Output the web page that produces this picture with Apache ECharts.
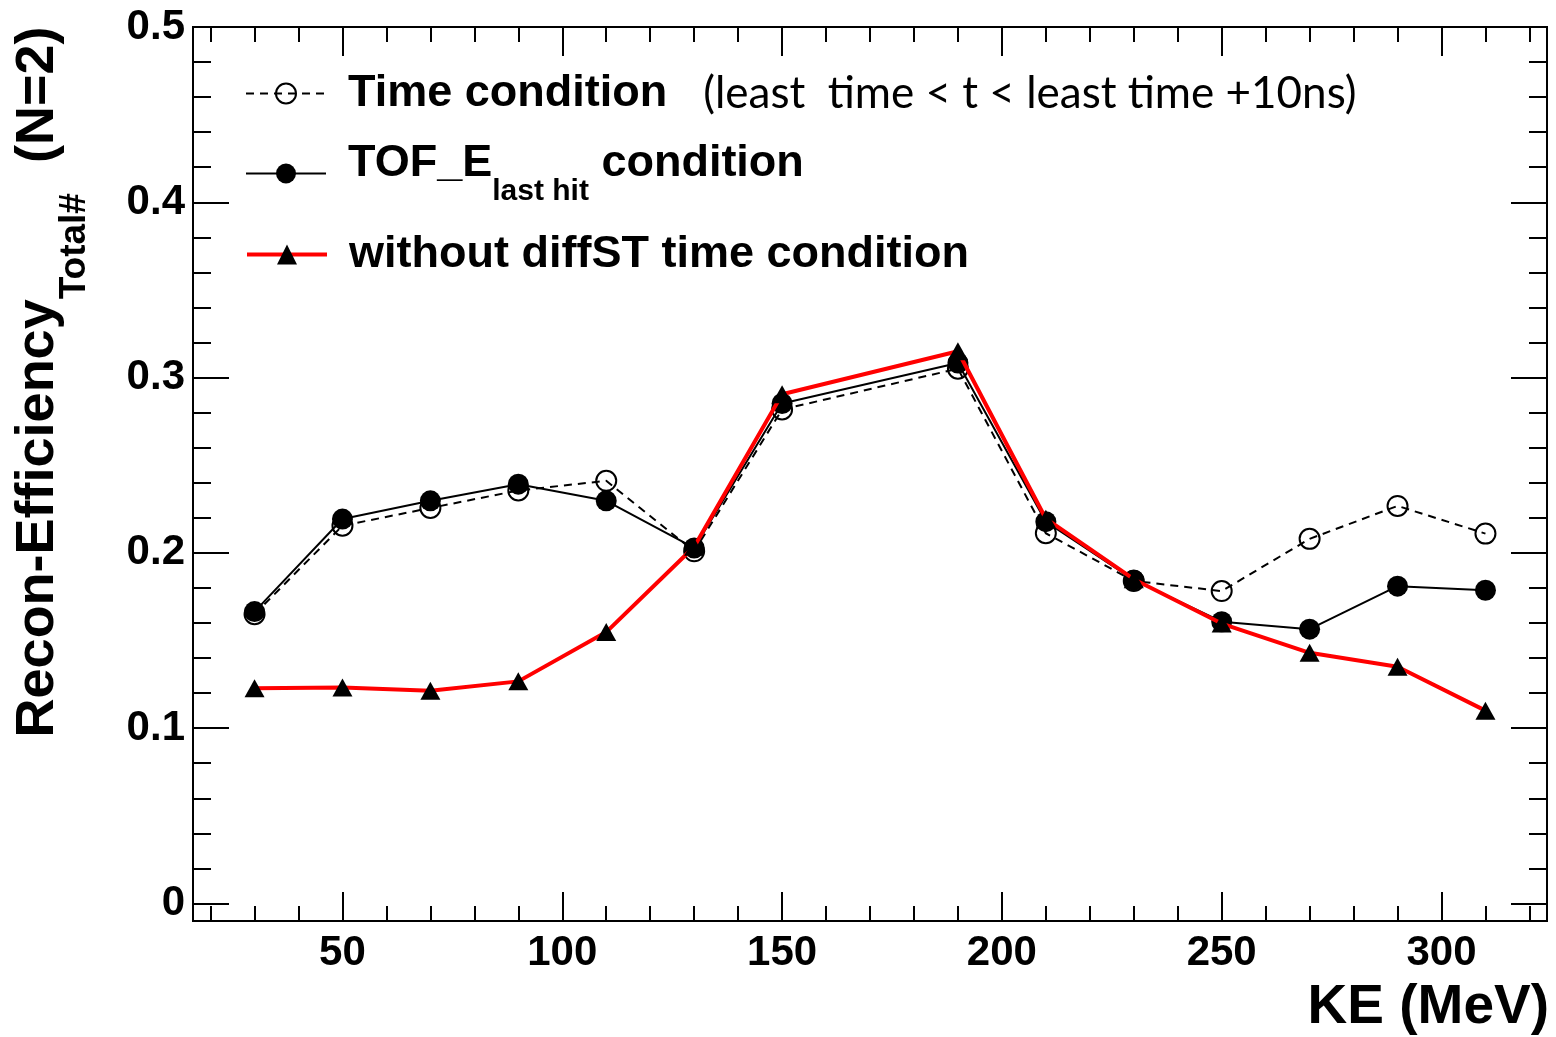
<!DOCTYPE html>
<html>
<head>
<meta charset="utf-8">
<title>Recon-Efficiency vs KE</title>
<script src="https://cdn.jsdelivr.net/npm/echarts@6/dist/echarts.min.js"></script>
<style>
  html, body { margin: 0; padding: 0; background: #fff; }
  #chart { width: 1556px; height: 1037px; }
</style>
</head>
<body>
<div id="chart"></div>
<script>
// Kinetic energy bins (MeV)
const KE = [30, 50, 70, 90, 110, 130, 150, 190, 210, 230, 250, 270, 290, 310];

// Reconstruction efficiency per selection
const timeCondition = [0.165, 0.2155, 0.2256, 0.2356, 0.2411, 0.2009, 0.2818, 0.3051, 0.2112, 0.1840, 0.1782, 0.2080, 0.2268, 0.2110];
const tofECondition = [0.1665, 0.2193, 0.2297, 0.2392, 0.2297, 0.2028, 0.2852, 0.3083, 0.2178, 0.1846, 0.1607, 0.1565, 0.1810, 0.1787];
const noDiffST      = [0.1228, 0.1232, 0.1214, 0.1267, 0.1548, 0.2035, 0.2905, 0.3150, 0.2195, 0.1850, 0.1597, 0.1430, 0.1350, 0.1100];

// Axis ticks
const xMajorTicks = [50, 100, 150, 200, 250, 300];
const xMinorTicks = [20, 30, 40, 60, 70, 80, 90, 110, 120, 130, 140, 160, 170, 180, 190,
                     210, 220, 230, 240, 260, 270, 280, 290, 310, 320];
const yMajorTicks = [0, 0.1, 0.2, 0.3, 0.4, 0.5];
const yMinorTicks = [0.02, 0.04, 0.06, 0.08, 0.12, 0.14, 0.16, 0.18, 0.22, 0.24, 0.26, 0.28,
                     0.32, 0.34, 0.36, 0.38, 0.42, 0.44, 0.46, 0.48];

const NAME_TIME = 'Time condition';
const NAME_TOF = 'TOF_E condition';
const NAME_NODIFF = 'without diffST time condition';

const X_MIN = 16, X_MAX = 324, Y_MIN = -0.01, Y_MAX = 0.5;
const BOLD = 'Liberation Sans';

function pairs(ys) { return KE.map((k, i) => [k, ys[i]]); }

function xAxisDef(position, ticks, len, withLabels) {
  return {
    type: 'value', position: position, min: X_MIN, max: X_MAX,
    axisLine: { show: false, onZero: false },
    splitLine: { show: false },
    axisTick: { show: true, inside: true, length: len, customValues: ticks,
                lineStyle: { color: '#000', width: 2 } },
    axisLabel: withLabels ? {
      show: true, customValues: ticks, margin: 11,
      fontFamily: BOLD, fontWeight: 'bold', fontSize: 42, color: '#000'
    } : { show: false }
  };
}
function yAxisDef(position, ticks, len, withLabels) {
  return {
    type: 'value', position: position, min: Y_MIN, max: Y_MAX,
    axisLine: { show: false, onZero: false },
    splitLine: { show: false },
    axisTick: { show: true, inside: true, length: len, customValues: ticks,
                lineStyle: { color: '#000', width: 2 } },
    axisLabel: withLabels ? {
      show: true, customValues: ticks, margin: 8,
      formatter: v => (v === 0 ? '0' : v.toFixed(1)),
      fontFamily: BOLD, fontWeight: 'bold', fontSize: 42, color: '#000'
    } : { show: false }
  };
}

const xAxes = [
  xAxisDef('bottom', xMajorTicks, 29, true),
  xAxisDef('bottom', xMinorTicks, 15, false),
  xAxisDef('top', xMajorTicks, 29, false),
  xAxisDef('top', xMinorTicks, 15, false)
];
xAxes[0].name = 'KE (MeV)';
xAxes[0].nameLocation = 'end';
xAxes[0].nameGap = 2;
xAxes[0].nameTextStyle = {
  fontFamily: BOLD, fontWeight: 'bold', fontSize: 55, color: '#000',
  align: 'right', verticalAlign: 'top', padding: [59, 0, 0, 0]
};

const yAxes = [
  yAxisDef('left', yMajorTicks, 36, true),
  yAxisDef('left', yMinorTicks, 18, false),
  yAxisDef('right', yMajorTicks, 36, false),
  yAxisDef('right', yMinorTicks, 18, false)
];

const legendBase = {
  orient: 'vertical', left: 245, padding: 0, itemWidth: 80, itemHeight: 25,
  selectedMode: false
};

const option = {
  animation: false,
  backgroundColor: '#fff',
  grid: { left: 193, right: 9, top: 27, bottom: 116, show: true,
          outerBoundsMode: 'none', containLabel: false,
          borderColor: '#000', borderWidth: 2, backgroundColor: 'transparent' },
  xAxis: xAxes,
  yAxis: yAxes,
  legend: [
    Object.assign({}, legendBase, {
      top: 71, data: [NAME_TIME],
      lineStyle: { width: 2, type: [8, 6] },
      formatter: () => '{a|Time condition}{b|(least  time < t < least time +10ns)}',
      textStyle: { rich: {
        a: { fontFamily: BOLD, fontWeight: 'bold', fontSize: 45, lineHeight: 50, color: '#000', padding: [0, 0, 0, 17] },
        b: { fontFamily: 'Lato', fontSize: 44, lineHeight: 50, color: '#000', padding: [0, 0, 0, 36] }
      } }
    }),
    Object.assign({}, legendBase, {
      top: 141, data: [NAME_TOF],
      lineStyle: { width: 2 },
      formatter: () => '{p|TOF_E}{s|last hit}{a| condition}',
      textStyle: {
        padding: [0, 0, 20, 0],
        rich: {
          p: { fontFamily: BOLD, fontWeight: 'bold', fontSize: 45, lineHeight: 45, color: '#000', verticalAlign: 'top', padding: [0, 0, 0, 17] },
          a: { fontFamily: BOLD, fontWeight: 'bold', fontSize: 45, lineHeight: 45, color: '#000', verticalAlign: 'top' },
          s: { fontFamily: BOLD, fontWeight: 'bold', fontSize: 30, lineHeight: 30, color: '#000', verticalAlign: 'top', padding: [36, 0, 0, 0] }
        }
      }
    }),
    Object.assign({}, legendBase, {
      top: 232, data: [NAME_NODIFF],
      lineStyle: { width: 4 },
      formatter: () => '{a|without diffST time condition}',
      textStyle: { rich: {
        a: { fontFamily: BOLD, fontWeight: 'bold', fontSize: 45, lineHeight: 50, color: '#000', padding: [0, 0, 0, 17] }
      } }
    })
  ],
  graphic: [
    {
      type: 'text', x: 38, y: 382, rotation: Math.PI / 2,
      style: {
        text: '{m|Recon-Efficiency}{s|Total#}{m|  (N=2)}',
        align: 'center', verticalAlign: 'middle',
        rich: {
          m: { fontFamily: BOLD, fontWeight: 'bold', fontSize: 54, lineHeight: 54, fill: '#000', verticalAlign: 'top' },
          s: { fontFamily: BOLD, fontWeight: 'bold', fontSize: 37, lineHeight: 37, fill: '#000', verticalAlign: 'top', padding: [45, 0, 0, 0] }
        }
      }
    }
  ],
  series: [
    {
      name: NAME_TIME, type: 'line', data: pairs(timeCondition),
      xAxisIndex: 0, yAxisIndex: 0,
      symbol: 'circle', symbolSize: 20,
      itemStyle: { color: 'rgba(0,0,0,0)', borderColor: '#000', borderWidth: 2 },
      lineStyle: { color: '#000', width: 2, type: [8, 6] },
      emphasis: { disabled: true }, z: 2
    },
    {
      name: NAME_TOF, type: 'line', data: pairs(tofECondition),
      xAxisIndex: 0, yAxisIndex: 0,
      symbol: 'circle', symbolSize: 21,
      itemStyle: { color: '#000' },
      lineStyle: { color: '#000', width: 2 },
      emphasis: { disabled: true }, z: 3
    },
    {
      name: NAME_NODIFF, type: 'line', data: pairs(noDiffST),
      xAxisIndex: 0, yAxisIndex: 0,
      symbol: 'triangle', symbolSize: [20, 18],
      itemStyle: { color: '#000' },
      lineStyle: { color: '#ff0000', width: 4 },
      emphasis: { disabled: true }, z: 4
    }
  ]
};

const chart = echarts.init(document.getElementById('chart'), null, { renderer: 'canvas' });
chart.setOption(option);
</script>
</body>
</html>
